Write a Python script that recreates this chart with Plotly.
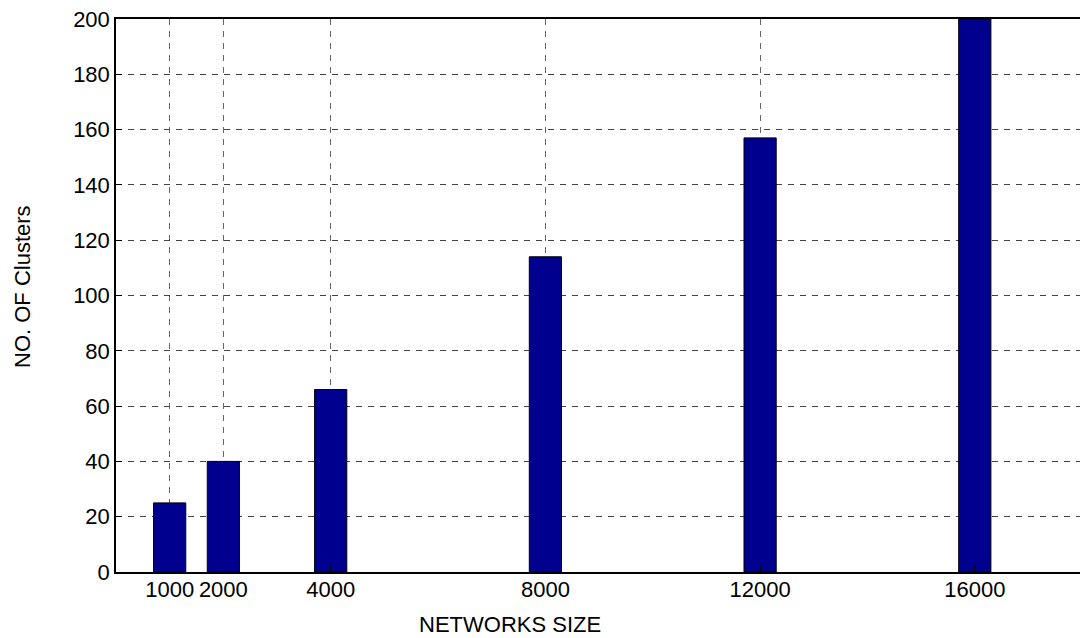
import plotly.graph_objects as go

network_sizes = [1000, 2000, 4000, 8000, 12000, 16000]
num_clusters = [25, 40, 66, 114, 157, 200]
x_tick_labels = ["1000", "2000", "4000", "8000", "12000", "16000"]
y_tick_values = list(range(0, 201, 20))

W, H = 1080, 638
L, R, T, B = 116, 0, 19, 66
font = dict(family="Liberation Sans, Arial, sans-serif", size=22, color="black")

fig = go.Figure()
fig.add_trace(go.Bar(
    x=network_sizes, y=num_clusters, width=600,
    marker=dict(color="#00008F", line=dict(color="black", width=1)),
))

fig.update_layout(
    width=W, height=H,
    margin=dict(l=L, r=R, t=T, b=B, pad=0),
    plot_bgcolor="white", paper_bgcolor="white",
    showlegend=False, font=font,
    xaxis=dict(
        range=[0, 17960], tickvals=network_sizes, ticktext=x_tick_labels,
        showgrid=True, gridcolor="#666", griddash="6px,6px", gridwidth=1,
        showline=True, linecolor="black", linewidth=1.5, mirror=True,
        ticks="inside", ticklen=6, tickcolor="black", zeroline=False,
        tickfont=font, ticklabelstandoff=-3,
    ),
    yaxis=dict(
        range=[0, 200], tickvals=y_tick_values,
        showgrid=True, gridcolor="#444", griddash="6px,6px", gridwidth=1,
        showline=True, linecolor="black", linewidth=1.5,
        ticks="inside", ticklen=6, tickcolor="black", zeroline=False,
        tickfont=font,
    ),
    annotations=[
        dict(text="NETWORKS SIZE", xref="paper", yref="paper",
             x=(510 - L) / (W - L - R), y=-(624 - 572) / (H - T - B),
             xanchor="center", yanchor="middle", showarrow=False, font=font),
        dict(text="NO. OF Clusters", xref="paper", yref="paper",
             x=(22 - L) / (W - L - R), y=1 - (287 - T) / (H - T - B),
             xanchor="center", yanchor="middle", textangle=-90,
             showarrow=False, font=font),
    ],
)

fig.write_html(
    "out.html",
    config={"displayModeBar": False},
    post_script="document.body.style.margin='0';document.body.style.overflow='hidden';",
)
